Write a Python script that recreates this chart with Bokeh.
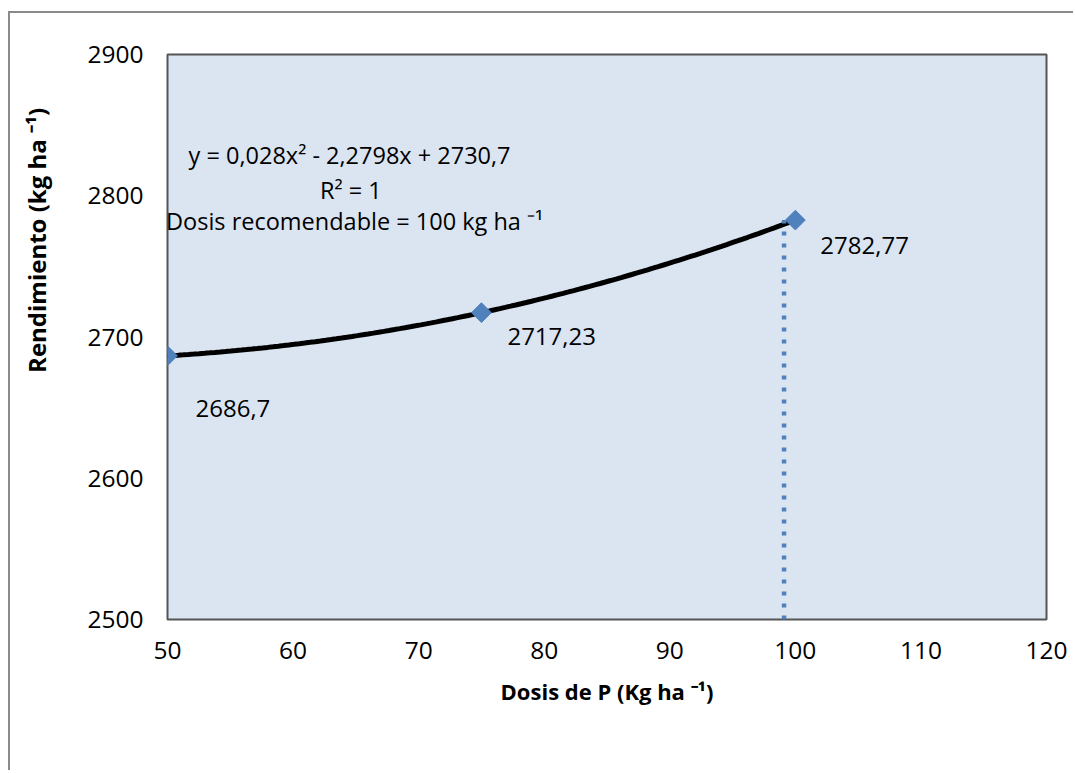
import numpy as np
from bokeh.plotting import figure
from bokeh.models import Label, Range1d, FixedTicker
from bokeh.embed import file_html
from bokeh.resources import INLINE

# ---- data ----
dose = [50, 75, 100]
yield_kg = [2686.7, 2717.23, 2782.77]
point_labels = ["2686,7", "2717,23", "2782,77"]
ref_x = [99.1, 99.1]
ref_y = [2500, 2782.77]
x_ticks = [50, 60, 70, 80, 90, 100, 110, 120]
y_ticks = [2500, 2600, 2700, 2800, 2900]
eq_lines = ["y = 0,028x² - 2,2798x + 2730,7", "R² = 1", "Dosis recomendable = 100 kg ha ⁻¹"]
x_title = "Dosis de P (Kg ha ⁻¹)"
y_title = "Rendimiento (kg ha ⁻¹)"

# ---- styling ----
FONT = "Open Sans"
BLUE = "#4F81BD"
label_dx = [28, 26, 25]   # pixel offsets of the data labels
label_dy = [53, 24, 25]

p = figure(width=1065, height=759, output_backend="svg", toolbar_location=None,
           x_range=Range1d(50, 120), y_range=Range1d(2500, 2900),
           min_border_left=157, min_border_right=29, min_border_top=41, min_border_bottom=153)
p.margin = (11, 0, 0, 8)
p.styles = {"border-left": "2px solid #8a8a8a", "border-top": "2px solid #8a8a8a"}

p.background_fill_color = "#DBE5F1"
p.border_fill_color = "white"
p.outline_line_color = "#555555"
p.outline_line_width = 2
p.xgrid.visible = False
p.ygrid.visible = False

for ax in (p.xaxis[0], p.yaxis[0]):
    ax.axis_line_color = None
    ax.major_tick_line_color = None
    ax.minor_tick_line_color = None
    ax.major_tick_out = 0
    ax.major_tick_in = 0
    ax.major_label_text_font = FONT
    ax.major_label_text_font_size = "24.5px"
    ax.major_label_text_color = "black"
    ax.axis_label_text_font = FONT
    ax.axis_label_text_font_style = "bold"
    ax.axis_label_text_color = "black"

p.xaxis.ticker = FixedTicker(ticks=x_ticks)
p.yaxis.ticker = FixedTicker(ticks=y_ticks)
p.xaxis.major_label_standoff = 22
p.yaxis.major_label_standoff = 24

p.xaxis.axis_label = x_title
p.xaxis.axis_label_text_font_size = "22px"
p.xaxis.axis_label_standoff = 14

# y title shifted upward (as in the reference) with leading non-breaking spaces
p.yaxis.axis_label = "\u00a0" * 31 + y_title
p.yaxis.axis_label_text_font_size = "24px"
p.yaxis.axis_label_standoff = 31

# quadratic trend line fitted to the data
coef = np.polyfit(dose, yield_kg, 2)
xs = np.linspace(min(dose), max(dose), 120)
p.line(xs, np.polyval(coef, xs), line_color="black", line_width=5)

# recommended-dose dotted line
p.line(ref_x, ref_y, line_color=BLUE, line_width=4.5, line_dash="4 8")

p.scatter(dose, yield_kg, marker="square", angle=np.pi / 4, size=14,
          fill_color=BLUE, line_color=BLUE)

for x, y, t, dx, dy in zip(dose, yield_kg, point_labels, label_dx, label_dy):
    p.add_layout(Label(x=x, y=y, text=t, x_offset=dx, y_offset=-dy,
                       text_font=FONT, text_font_size="24px", text_baseline="middle",
                       text_align="left", text_color="black"))

eq_pos = [(64.5, 2829.0), (64.6, 2804.3), (64.9, 2782.4)]
for (ex, ey), t in zip(eq_pos, eq_lines):
    p.add_layout(Label(x=ex, y=ey, text=t, text_font=FONT, text_font_size="23.5px",
                       text_align="center", text_baseline="middle", text_color="black"))

open("out.html", "w").write(file_html(p, INLINE))
